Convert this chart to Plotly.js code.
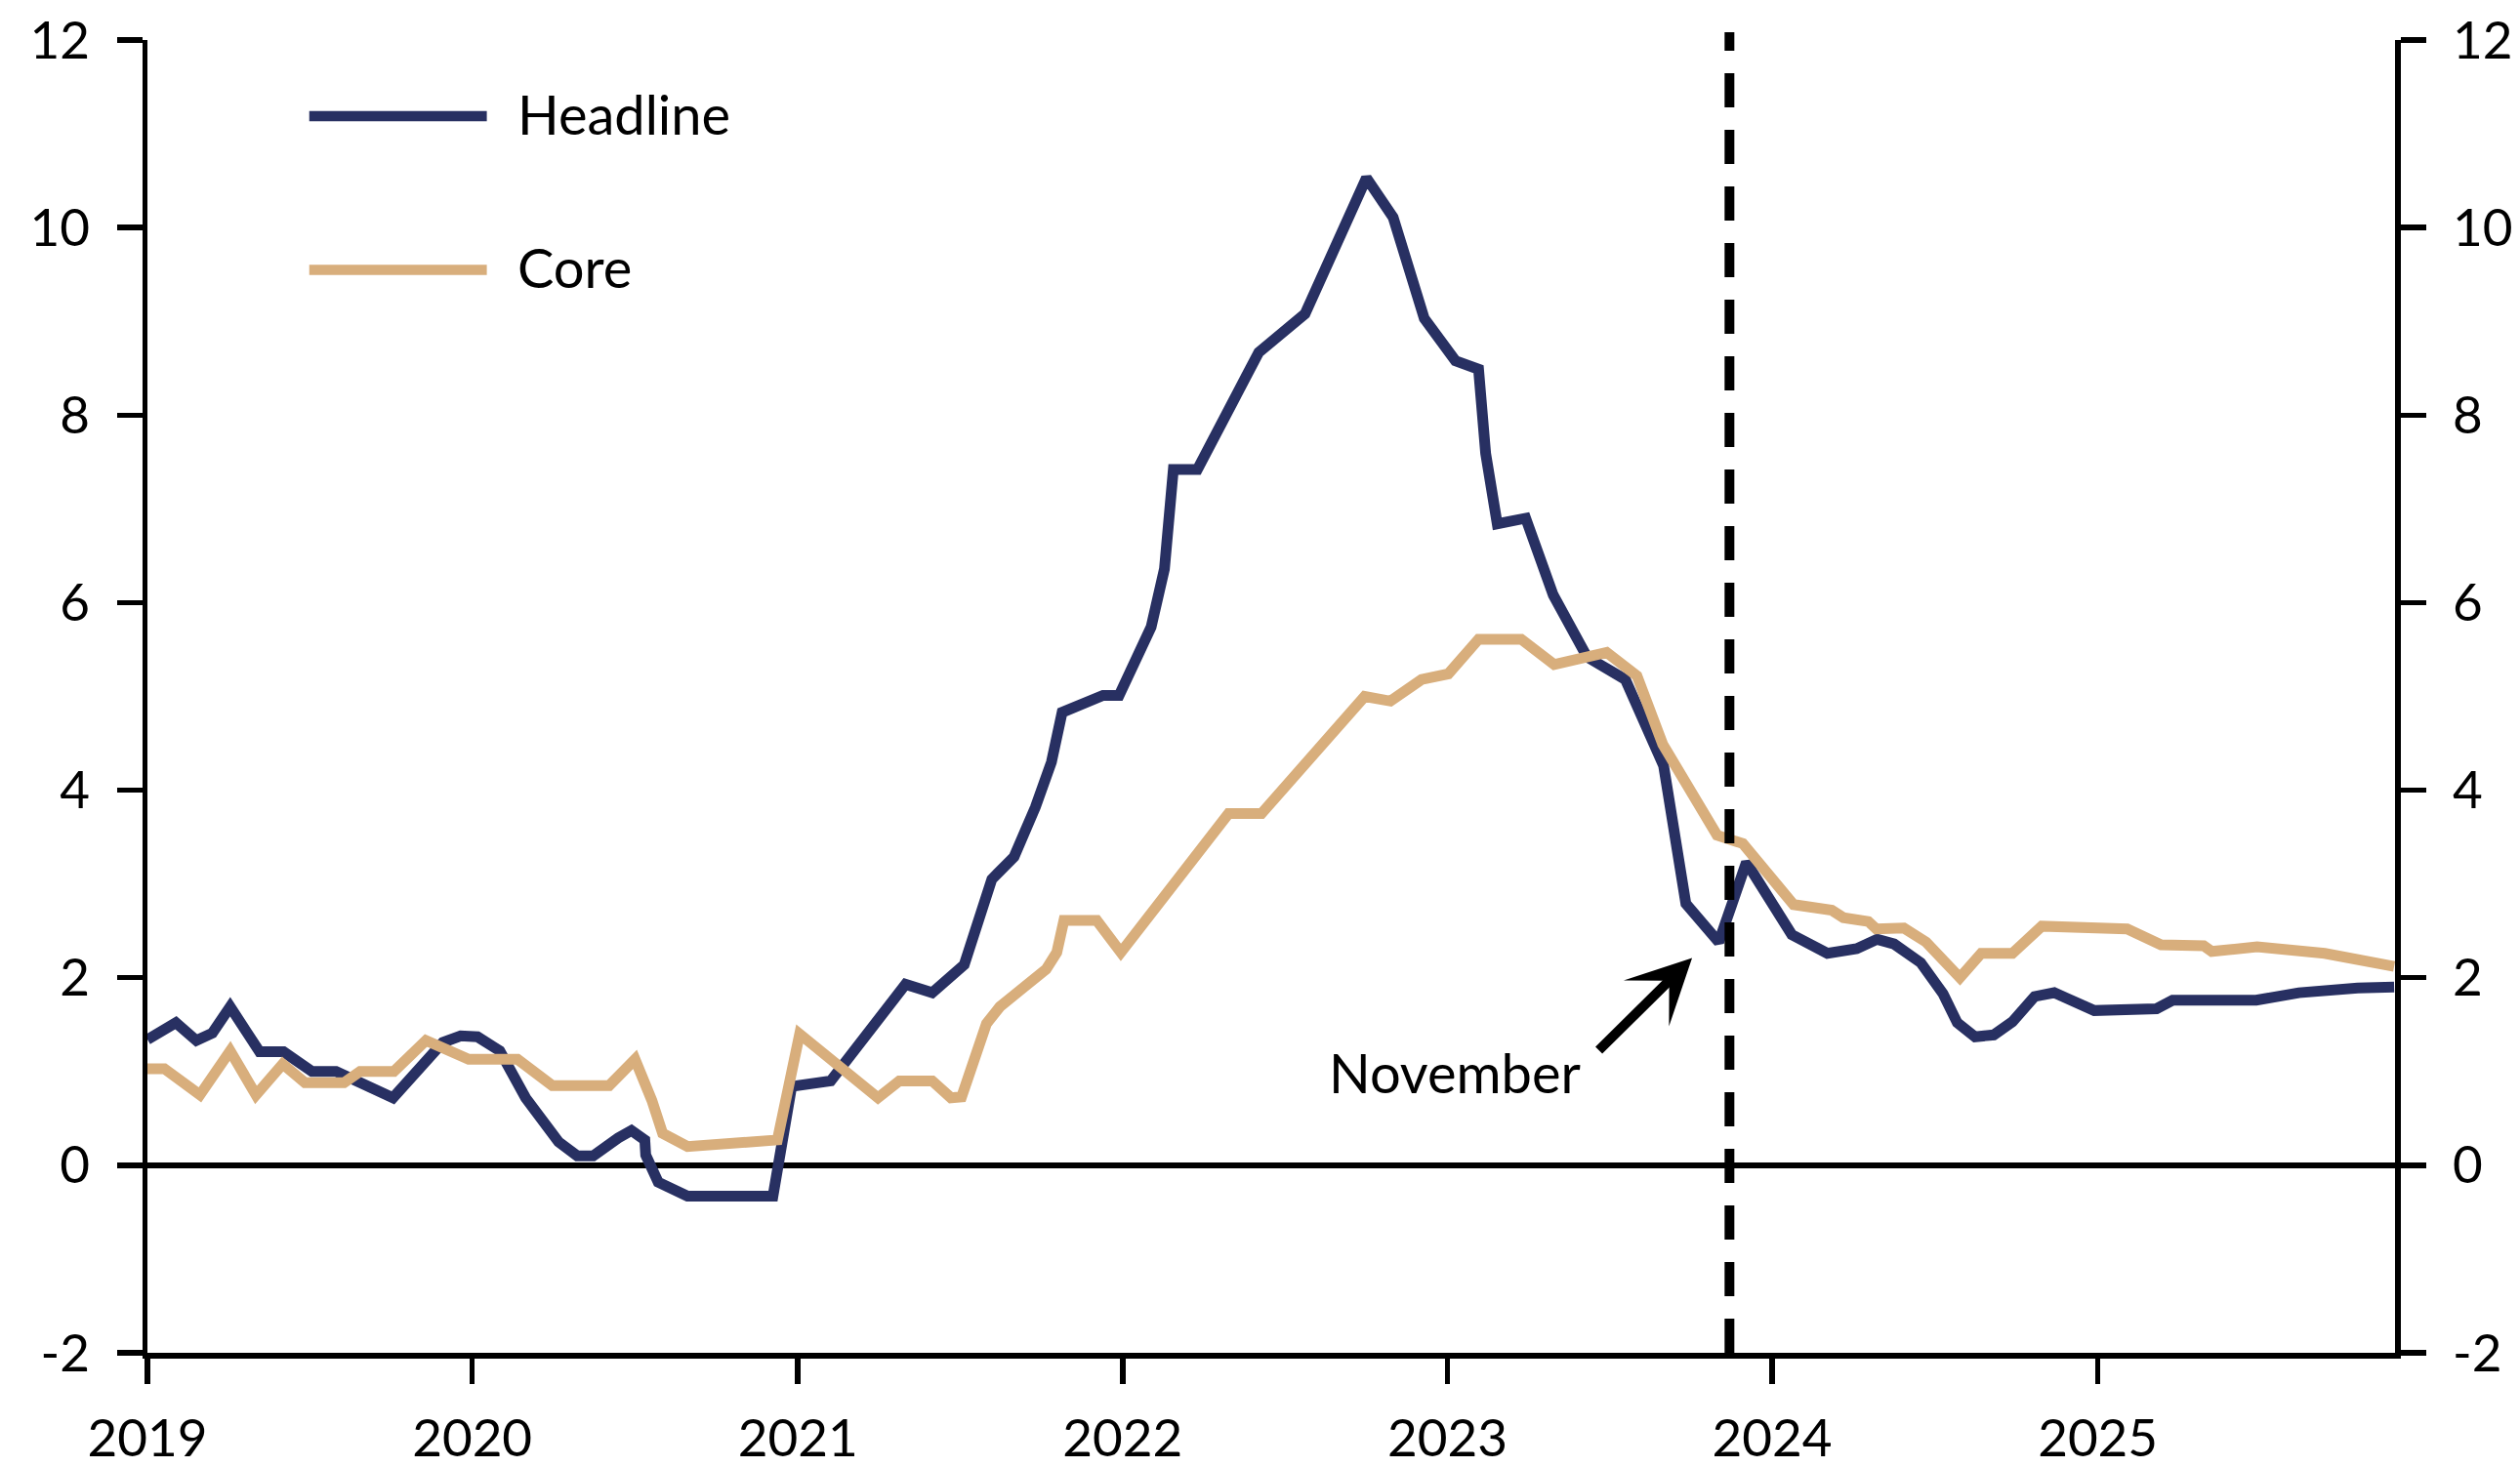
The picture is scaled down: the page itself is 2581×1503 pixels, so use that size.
<!DOCTYPE html>
<html>
<head>
<meta charset="utf-8">
<script src="https://cdn.plot.ly/plotly-3.0.1.min.js"></script>
<style>
  html, body { margin: 0; padding: 0; background: #ffffff; }
  #chart { width: 2581px; height: 1503px; }
</style>
</head>
<body>
<div id="chart"></div>
<script>
// ---- Data ----
const headlineDates = [
  '2019-01-01','2019-02-02','2019-02-25','2019-03-15','2019-04-04','2019-05-07','2019-06-03','2019-07-05','2019-08-01',
  '2019-10-04','2019-11-29','2019-12-19','2020-01-07','2020-02-01','2020-03-01','2020-04-07','2020-04-28','2020-05-16',
  '2020-06-13','2020-06-28','2020-07-13','2020-07-14','2020-07-28','2020-08-30','2020-12-04','2020-12-25','2021-02-07',
  '2021-05-02','2021-06-01','2021-07-07','2021-08-07','2021-09-01','2021-09-25','2021-10-13','2021-10-25','2021-12-10',
  '2021-12-28','2022-02-02','2022-02-17','2022-02-27','2022-03-26','2022-06-03','2022-07-25','2022-10-02','2022-11-01',
  '2022-12-06','2023-01-10','2023-02-05','2023-02-13','2023-02-26','2023-03-30','2023-04-30','2023-06-07','2023-07-20',
  '2023-09-01','2023-09-26','2023-11-02','2023-12-03','2024-01-23','2024-03-03','2024-04-05','2024-04-28','2024-05-17',
  '2024-06-16','2024-07-11','2024-07-27','2024-08-16','2024-09-06','2024-09-27','2024-10-22','2024-11-13','2024-12-09',
  '2024-12-28','2025-03-08','2025-03-26','2025-06-28','2025-08-15','2025-10-20','2025-11-30'
];
const headlineValues = [
  1.34, 1.52, 1.33, 1.41, 1.69, 1.21, 1.21, 1.00, 1.00,
  0.72, 1.31, 1.38, 1.37, 1.22, 0.72, 0.25, 0.10, 0.10,
  0.29, 0.37, 0.27, 0.11, -0.18, -0.33, -0.33, 0.84, 0.90,
  1.93, 1.84, 2.14, 3.05, 3.29, 3.82, 4.30, 4.83, 5.01,
  5.01, 5.74, 6.36, 7.42, 7.42, 8.67, 9.08, 10.53, 10.11,
  9.03, 8.58, 8.49, 7.59, 6.84, 6.90, 6.08, 5.42, 5.18,
  4.26, 2.79, 2.38, 3.23, 2.46, 2.26, 2.31, 2.41, 2.36,
  2.16, 1.83, 1.52, 1.37, 1.39, 1.53, 1.80, 1.84, 1.74,
  1.65, 1.67, 1.76, 1.76, 1.84, 1.89, 1.90
];

const coreDates = [
  '2019-01-01','2019-01-20','2019-03-01','2019-04-04','2019-05-03','2019-06-02','2019-06-27','2019-08-10','2019-08-28',
  '2019-10-05','2019-11-10','2019-12-28','2020-02-21','2020-03-31','2020-06-03','2020-07-02','2020-07-21','2020-08-02',
  '2020-08-30','2020-12-09','2021-01-03','2021-04-01','2021-04-25','2021-06-01','2021-06-22','2021-07-04','2021-08-01',
  '2021-08-16','2021-09-16','2021-10-07','2021-10-19','2021-10-27','2021-12-03','2021-12-30','2022-04-30','2022-06-06',
  '2022-09-30','2022-10-29','2022-12-03','2023-01-02','2023-02-05','2023-03-25','2023-05-01','2023-06-29','2023-08-02',
  '2023-08-31','2023-10-31','2023-11-29','2024-01-25','2024-03-08','2024-03-21','2024-04-18','2024-04-27','2024-05-28',
  '2024-06-22','2024-07-12','2024-07-30','2024-08-23','2024-09-27','2024-10-30','2025-02-03','2025-03-13','2025-04-30',
  '2025-05-09','2025-06-29','2025-09-13','2025-11-30'
];
const coreValues = [
  1.03, 1.03, 0.75, 1.22, 0.75, 1.08, 0.88, 0.88, 1.00,
  1.00, 1.33, 1.13, 1.13, 0.85, 0.85, 1.13, 0.69, 0.34,
  0.20, 0.27, 1.40, 0.72, 0.90, 0.90, 0.72, 0.73, 1.51,
  1.69, 1.93, 2.09, 2.27, 2.61, 2.61, 2.27, 3.75, 3.75,
  5.00, 4.95, 5.18, 5.24, 5.61, 5.61, 5.34, 5.47, 5.22,
  4.49, 3.52, 3.43, 2.78, 2.72, 2.64, 2.60, 2.52, 2.53,
  2.38, 2.20, 2.00, 2.26, 2.26, 2.55, 2.52, 2.35, 2.34,
  2.28, 2.33, 2.26, 2.12
];

const seriesNames = ['Headline', 'Core'];
const yearTickVals = ['2019-01-01','2020-01-01','2021-01-01','2022-01-01','2023-01-01','2024-01-01','2025-01-01'];
const yearTickText = ['2019','2020','2021','2022','2023','2024','2025'];
const yTickVals = [-2, 0, 2, 4, 6, 8, 10, 12];
const yTickText = ['-2', '0', '2', '4', '6', '8', '10', '12'];
const markerDate = '2023-11-14';
const annotationText = 'November';

// ---- Styles ----
const NAVY = '#283062';
const TAN = '#D8AE7C';
const FONT = 'Lato, "Open Sans", sans-serif';

const traces = [
  {
    x: headlineDates, y: headlineValues, name: seriesNames[0], type: 'scatter', mode: 'lines',
    line: { color: NAVY, width: 11 }, hoverinfo: 'skip', showlegend: false
  },
  {
    x: coreDates, y: coreValues, name: seriesNames[1], type: 'scatter', mode: 'lines',
    line: { color: TAN, width: 11 }, hoverinfo: 'skip', showlegend: false
  },
  {
    x: headlineDates, y: headlineValues, yaxis: 'y2', type: 'scatter', mode: 'lines',
    line: { color: 'rgba(0,0,0,0)', width: 0 }, opacity: 0, hoverinfo: 'skip', showlegend: false
  }
];

const yCommon = {
  range: [-2, 12],
  tickmode: 'array', tickvals: yTickVals, ticktext: yTickText,
  ticks: 'outside', ticklen: 26, tickwidth: 5.5, tickcolor: '#000',
  showline: true, linewidth: 5.5, linecolor: '#000',
  showgrid: false, fixedrange: true,
  tickfont: { family: FONT, size: 53, color: '#000' },
  ticklabelstandoff: 17
};

const layout = {
  width: 2581, height: 1503,
  margin: { l: 151, r: 128, t: 41, b: 117, pad: 0 },
  paper_bgcolor: '#ffffff', plot_bgcolor: '#ffffff',
  font: { family: FONT, size: 54, color: '#000' },
  showlegend: false,
  xaxis: {
    type: 'date', range: ['2019-01-01', '2025-12-01'],
    tickmode: 'array', tickvals: yearTickVals, ticktext: yearTickText,
    ticks: 'outside', ticklen: 26, tickwidth: 5.5, tickcolor: '#000',
    showline: true, linewidth: 5.5, linecolor: '#000',
    showgrid: false, zeroline: false, fixedrange: true,
    tickfont: { family: FONT, size: 53, color: '#000' },
    ticklabelstandoff: 11
  },
  yaxis: Object.assign({}, yCommon, {
    side: 'left', zeroline: true, zerolinewidth: 6, zerolinecolor: '#000'
  }),
  yaxis2: Object.assign({}, yCommon, {
    side: 'right', overlaying: 'y', zeroline: false
  }),
  shapes: [
    { type: 'line', xref: 'x', yref: 'paper', x0: markerDate, x1: markerDate, y0: 0, y1: 1.006,
      line: { color: '#000', width: 10, dash: '35px,23px' }, layer: 'above' },
    { type: 'line', xref: 'paper', yref: 'paper', x0: 0.072, x1: 0.151, y0: 0.942, y1: 0.942,
      line: { color: NAVY, width: 10.5 } },
    { type: 'line', xref: 'paper', yref: 'paper', x0: 0.072, x1: 0.151, y0: 0.825, y1: 0.825,
      line: { color: TAN, width: 10.5 } }
  ],
  annotations: [
    { xref: 'paper', yref: 'paper', x: 0.1638, y: 0.944, text: seriesNames[0], showarrow: false,
      xanchor: 'left', yanchor: 'middle', font: { family: FONT, size: 56, color: '#000' } },
    { xref: 'paper', yref: 'paper', x: 0.1638, y: 0.8275, text: seriesNames[1], showarrow: false,
      xanchor: 'left', yanchor: 'middle', font: { family: FONT, size: 56, color: '#000' } },
    { xref: 'x', yref: 'y', x: '2023-01-09', y: 0.99, text: annotationText, showarrow: false,
      xanchor: 'center', yanchor: 'middle', font: { family: FONT, size: 56, color: '#000' } },
    { xref: 'x', yref: 'y', x: '2023-10-03', y: 2.21, text: ' ', showarrow: true,
      ax: -97, ay: 96, arrowhead: 3, arrowsize: 1.1, arrowwidth: 10, arrowcolor: '#000',
      standoff: 0, startstandoff: 0, font: { size: 1 } }
  ]
};

Plotly.newPlot('chart', traces, layout, { staticPlot: true, displayModeBar: false });
</script>
</body>
</html>
